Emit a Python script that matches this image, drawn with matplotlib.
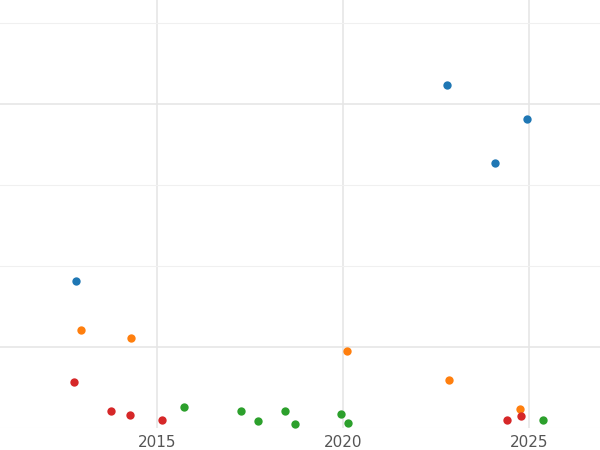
import matplotlib.pyplot as plt

blue_x = [2012.82, 2022.80, 2024.09, 2024.95]
blue_y = [1.81, 4.23, 3.27, 3.81]
orange_x = [2012.96, 2014.30, 2020.11, 2022.85, 2024.76]
orange_y = [1.21, 1.11, 0.95, 0.59, 0.23]
red_x = [2012.77, 2013.76, 2014.27, 2015.13, 2024.41, 2024.78]
red_y = [0.57, 0.21, 0.16, 0.10, 0.10, 0.15]
green_x = [2015.73, 2017.26, 2017.72, 2018.44, 2018.71, 2019.95, 2020.13, 2025.38]
green_y = [0.26, 0.21, 0.09, 0.21, 0.05, 0.17, 0.06, 0.10]

fig = plt.figure(figsize=(6, 4.5), dpi=100)
ax = fig.add_axes([0, 22 / 450, 1, 428 / 450])

for xs, ys, c in [(blue_x, blue_y, '#1f77b4'), (orange_x, orange_y, '#ff7f0e'),
                  (red_x, red_y, '#d62728'), (green_x, green_y, '#2ca02c')]:
    ax.scatter(xs, ys, s=36, color=c, zorder=3, linewidths=0)

ax.set_xlim(2015 - 157 / 37.2, 2025 + 71 / 37.2)
ax.set_ylim(0, 428 / 81)
ax.set_xticks([2015, 2020, 2025])
ax.set_xticks([2012.5, 2017.5, 2022.5], minor=True)
ax.set_yticks([1, 4])
ax.set_yticks([0, 2, 3, 5], minor=True)
ax.grid(True, which='major', color='#e6e6e6', linewidth=1.2)
ax.grid(True, which='minor', axis='y', color='#f0f0f0', linewidth=0.8)
ax.tick_params(axis='both', which='both', length=0)
ax.tick_params(axis='x', labelsize=11, labelcolor='#555555', pad=5)
ax.set_yticklabels([])
for s in ax.spines.values():
    s.set_visible(False)

fig.savefig('out.png')
